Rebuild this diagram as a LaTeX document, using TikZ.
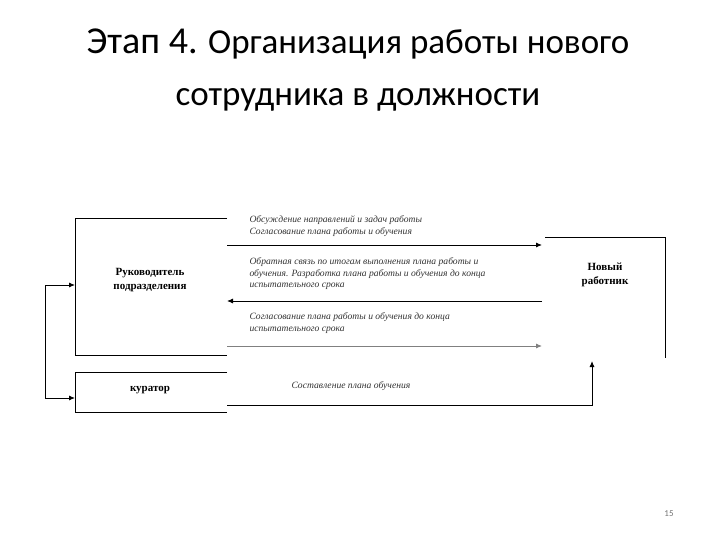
\documentclass[tikz,border=0pt]{standalone}
\usepackage{fontspec}
\setmainfont{Liberation Serif}
\newfontfamily\titlefont{Carlito}
\usetikzlibrary{arrows.meta}
\begin{document}
\begin{tikzpicture}[x=1pt,y=-1pt,
  lbl/.style={font=\itshape\fontsize{9.6}{11.5}\selectfont, align=left, anchor=west, text=black!80},
  bx/.style={font=\bfseries\fontsize{11}{14}\selectfont, align=center},
  arr/.style={-{Latex[length=6pt,width=5pt]}, line width=0.9pt}]
\useasboundingbox (0,0) rectangle (720,540);
\node[font=\titlefont\fontsize{35}{52}\selectfont, align=center] (title) at (358,70) {{\fontsize{38}{52}\selectfont Этап 4.} Организация работы нового\\сотрудника в должности};
% left box (open right)
\draw (227,218) -- (75,218) -- (75,355) -- (227,355);
\node[bx] (ruk) at (150,280) {Руководитель\\подразделения};
% right box (open left and bottom)
\draw (545,237) -- (665,237) -- (665,358);
\node[bx] (new) at (605,275) {Новый\\работник};
% curator box
\draw (227,372) -- (75,372) -- (75,412) -- (227,412);
\node[bx] (kur) at (150,390) {куратор};
% arrows between
\coordinate (a1s) at (227,245); \coordinate (a1e) at (542,245);
\draw[arr] (a1s) -- (a1e);
\coordinate (a2s) at (542,301); \coordinate (a2e) at (227,301);
\draw[arr] (a2s) -- (a2e);
\coordinate (a3s) at (227,346); \coordinate (a3e) at (542,346);
\draw[arr, draw=black!50, fill=black!50] (a3s) -- (a3e);
\node[lbl] (t1) at (246,226) {Обсуждение направлений и задач работы\\Согласование  плана работы и обучения};
\node[lbl] (t2) at (246,274) {Обратная связь  по итогам  выполнения плана работы и\\обучения.  Разработка плана работы и обучения до конца\\испытательного срока};
\node[lbl] (t3) at (246,323) {Согласование  плана  работы и обучения до конца\\испытательного срока};
% curator to new
\coordinate (c1) at (227,405); \coordinate (c2) at (592,405); \coordinate (c3) at (592,361);
\draw[arr] (c1) -- (c2) -- (c3);
\node[lbl] (t4) at (288,386) {Составление плана  обучения};
% left feedback
\coordinate (l1) at (45,285); \coordinate (l2) at (45,398);
\draw[arr] (l2) -- (l1) -- (75,285);
\draw[arr] (l2) -- (75,398);
\node[font=\titlefont\fontsize{9}{11}\selectfont, text=black!55] (pg) at (669,514) {15};
\end{tikzpicture}
\end{document}
